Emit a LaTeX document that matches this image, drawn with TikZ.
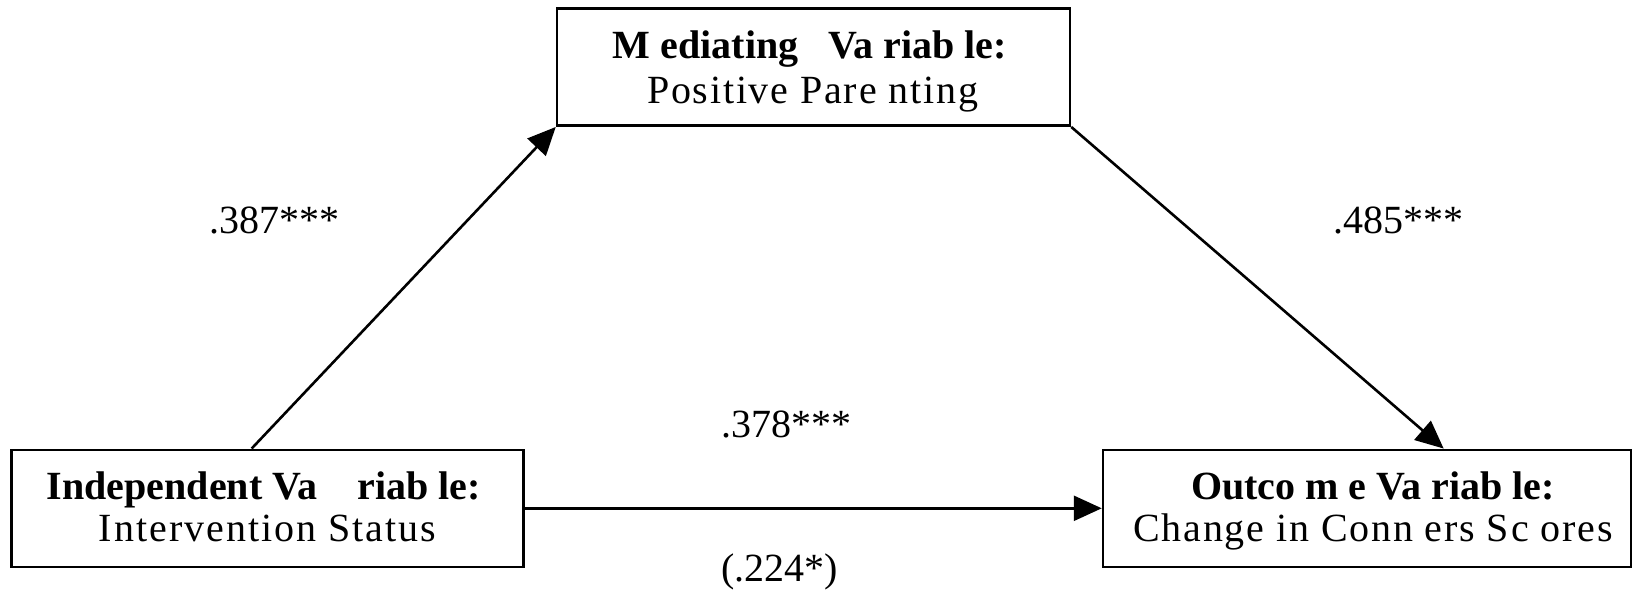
\documentclass[tikz,border=0pt]{standalone}
\usepackage{fontspec}
\setmainfont{Liberation Serif}
\usetikzlibrary{arrows.meta,calc}

\begin{document}
\begin{tikzpicture}[x=1pt,y=-1pt,
  varbox/.style={draw, line width=2.5pt, inner sep=0pt, minimum height=117pt},
  heading/.style={anchor=base, inner sep=0pt, font=\fontsize{40}{48}\selectfont\bfseries},
  subline/.style={anchor=base, inner sep=0pt, font=\fontsize{40}{48}\selectfont},
  coef/.style={anchor=base, inner sep=0pt, font=\fontsize{40}{48}\selectfont},
  path/.style={line width=2.6pt, -{Triangle[length=28pt,width=25pt]}}
]
\useasboundingbox (0,0) rectangle (1632,595);

% variable boxes
\node[varbox, minimum width=513pt] (med) at (813.5,67.2) {};
\node[varbox, minimum width=512pt] (iv) at (267.6,508.3) {};
\node[varbox, minimum width=528pt] (dv) at (1367,508.3) {};

% box texts
\node[heading] (medhead) at (810,58.5) {M ediating~~~Va riab le:};
\node[subline] (medsub) at (812.5,103.3) {\addfontfeatures{LetterSpace=4.5}Positive Pare nting};
\node[heading] (ivhead) at (264,499.5) {Independent Va~~~~riab le:};
\node[subline] (ivsub) at (267.5,541.7) {\addfontfeatures{LetterSpace=5}Intervention Status};
\node[heading] (dvhead) at (1373,499.5) {Outco m e Va riab le:};
\node[subline] (dvsub) at (1373,541.7) {\addfontfeatures{LetterSpace=4.5}Change in Conn ers Sc ores};

% paths
\draw[path] ($(iv.north west)!0.469!(iv.north east)$) -- (med.south west);
\draw[path] (med.south east) -- ($(dv.north west)!0.6445!(dv.north east)$);
\draw[path] (iv.east) -- (dv.west);

% path coefficients
\node[coef] (a) at (274,233) {.387***};
\node[coef] (b) at (1398,233) {.485***};
\node[coef] (c) at (786,437) {.378***};
\node[coef] (cp) at (779.5,581.7) {(.224*)};
\end{tikzpicture}
\end{document}
